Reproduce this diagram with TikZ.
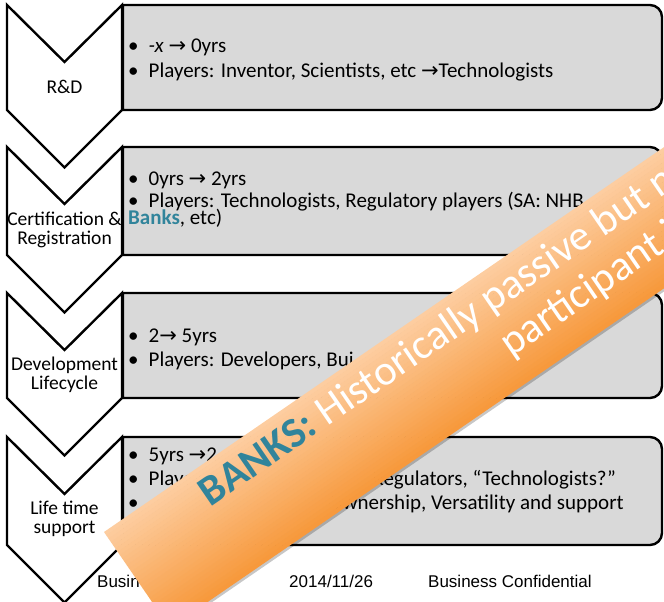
\documentclass[tikz,border=0pt]{standalone}
\usepackage{fontspec}
\setmainfont{Carlito}
\newfontfamily\footfont{Liberation Sans}
\newfontfamily\arrowfont{DejaVu Sans}

\definecolor{boxgray}{HTML}{D9D9D9}
\definecolor{bankteal}{HTML}{31849B}
\definecolor{ribbonlight}{HTML}{FDCDA0}
\definecolor{ribbondark}{HTML}{F7993C}
\newcommand{\rarr}{{\arrowfont →}}
\newcommand{\bul}{\textbullet\hspace{10pt}}

\begin{document}
\begin{tikzpicture}[
  x=1pt, y=-1pt,
  chev/.style={draw=black, fill=white, line width=2.4pt},
  stage/.style={draw=black, fill=boxgray, line width=2.4pt},
  lab/.style={font=\fontsize{19.5}{19.5}\selectfont, align=center, inner sep=0pt},
  txt/.style={font=\fontsize{21}{24}\selectfont, align=left, anchor=west, inner sep=0pt},
  foot/.style={font=\footfont\fontsize{17}{17}\selectfont, anchor=base west, inner sep=0pt},
  rtxt/.style={font=\fontsize{42.5}{42.5}\selectfont, text=white, anchor=base west, inner sep=0pt}
]
  \useasboundingbox (0,0) rectangle (664,602);
  \clip (0,0) rectangle (664,602);

  % R&D
  \draw[stage] (123,110) -- (123,5) [rounded corners=12pt] -- (662,5) -- (662,110) [sharp corners] -- (123,110) -- cycle;
  \draw[chev] (7,5) -- (64.5,62) -- (122,5) -- (122,110) -- (64.5,167.5) -- (7,110) -- cycle;
  \node[lab] (lab1) at (64.5,87) {R\&D};
  \node[txt] (txt1) at (128,60) {\bul\textit{-x} \rarr\ 0yrs\\[0.5pt]
    \bul Players: Inventor, Scientists, etc \rarr Technologists};

  % certification and registration
  \draw[stage] (123,255) -- (123,147) [rounded corners=12pt] -- (662,147) -- (662,255) [sharp corners] -- (123,255) -- cycle;
  \draw[chev] (7,147) -- (64.5,204) -- (122,147) -- (122,255) -- (64.5,312.5) -- (7,255) -- cycle;
  \node[lab] (lab2) at (64.5,230) {Certification \&\\Registration};
  \node[txt] (txt2) at (128,200) {\bul 0yrs \rarr\ 2yrs\\[-2pt]
    \bul Players: Technologists, Regulatory players (SA: NHB\\[-7pt]
    \textcolor{bankteal}{\textbf{Banks}}, etc)};

  % development lifecycle
  \draw[stage] (123,398) -- (123,293) [rounded corners=12pt] -- (662,293) -- (662,398) [sharp corners] -- (123,398) -- cycle;
  \draw[chev] (7,293) -- (64.5,350) -- (122,293) -- (122,398) -- (64.5,455.5) -- (7,398) -- cycle;
  \node[lab] (lab3) at (64.5,375) {Development\\Lifecycle};
  \node[txt] (txt3) at (128,349) {\bul 2\rarr\ 5yrs\\
    \bul Players: Developers, Bui};

  % life time support
  \draw[stage] (123,545) -- (123,437) [rounded corners=12pt] -- (662,437) -- (662,545) [sharp corners] -- (123,545) -- cycle;
  \draw[chev] (7,437) -- (64.5,494) -- (122,437) -- (122,545) -- (64.5,602.5) -- (7,545) -- cycle;
  \node[lab] (lab4) at (64.5,519) {Life time\\support};
  \node[txt] (txt4) at (128,480) {\bul 5yrs \rarr2\\
    \bul Players:\hspace*{158pt}Regulators, “Technologists?”\\
    \bul\hspace*{180pt}Ownership, Versatility and support};

  % footer
  \node[foot] (foot1) at (97,587) {Busin};
  \node[foot] (foot2) at (289,587) {2014/11/26};
  \node[foot] (foot3) at (428,587) {Business Confidential};

  % banks ribbon, shaded across its width
  \begin{scope}[shift={(104,532)}, rotate=34.5, transform shape]
    \fill[black, opacity=0.22] (1,3) rectangle (761,119);
    \foreach \i [evaluate=\i as \pct using \i*100/28] in {0,...,28}
      \fill[ribbondark!\pct!ribbonlight] (0,\i*4) rectangle (760,\i*4+4.4);
    \node[rtxt] (line1) at (102,40) {\textcolor{bankteal}{\textbf{BANKS:}} Historically passive but n};
    \node[rtxt] (line2) at (434,87) {participant i};
  \end{scope}
\end{tikzpicture}
\end{document}
